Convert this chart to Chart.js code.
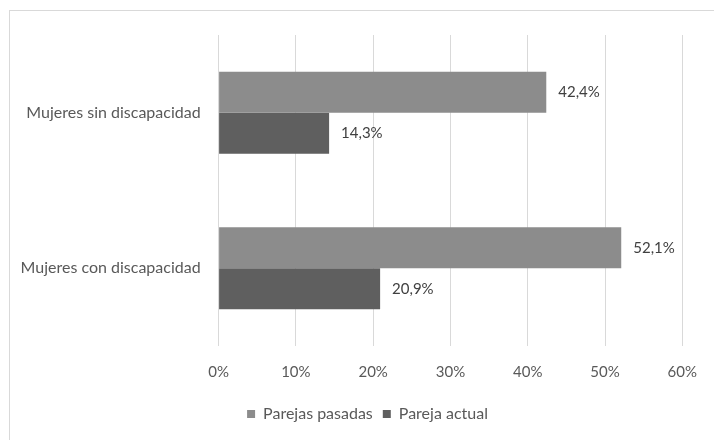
<!DOCTYPE html>
<html>
<head>
<meta charset="utf-8">
<script src="https://cdn.jsdelivr.net/npm/chart.js@4.4.0/dist/chart.umd.min.js"></script>
<style>
  html, body { margin: 0; padding: 0; background: #fff; }
  #frame { position: absolute; left: 9px; top: 10px; width: 710px; height: 440px; border: 1px solid #d9d9d9; box-sizing: border-box; }
  #wrap { position: absolute; left: 0; top: 0; width: 714px; height: 440px; }
</style>
</head>
<body>
<div id="frame"></div>
<div id="wrap"><canvas id="myChart" width="714" height="440"></canvas></div>
<script>
'use strict'

// categories and series
let categories = ['Mujeres sin discapacidad', 'Mujeres con discapacidad'];
let seriesNames = ['Parejas pasadas', 'Pareja actual'];
let pasadas = [42.4, 52.1];
let actual = [14.3, 20.9];
let tickValues = [0, 10, 20, 30, 40, 50, 60];

const textColor = '#595959';
const fontFamily = 'Lato, "Open Sans", sans-serif';

function pct(v){
  return v.toFixed(1).replace('.', ',') + '%';
}

// draws the value next to each bar end
const barLabels = {
  id: 'barLabels',
  afterDatasetsDraw(chart){
    let ctx = chart.ctx;
    ctx.save();
    ctx.fillStyle = '#404040';
    ctx.font = '15px ' + fontFamily;
    ctx.textAlign = 'left';
    ctx.textBaseline = 'middle';
    chart.data.datasets.forEach(function(ds, i){
      let meta = chart.getDatasetMeta(i);
      meta.data.forEach(function(bar, j){
        ctx.fillText(pct(ds.data[j]), bar.x + 12, bar.y);
      });
    });
    ctx.restore();
  }
};

// legend sits a bit right of the canvas centre in the original
const legendShift = {
  id: 'legendShift',
  afterLayout(chart){
    chart.legend.left += 26;
    chart.legend.right += 26;
  }
};

let ctx = document.getElementById('myChart').getContext('2d');
let myChart = new Chart(ctx, {
  type: 'bar',
  data: {
    labels: categories,
    datasets: [{
      label: seriesNames[0],
      data: pasadas,
      backgroundColor: '#8c8c8c',
      categoryPercentage: 0.527,
      barPercentage: 1
    }, {
      label: seriesNames[1],
      data: actual,
      backgroundColor: '#5f5f5f',
      categoryPercentage: 0.527,
      barPercentage: 1
    }]
  },
  options: {
    indexAxis: 'y',
    responsive: false,
    animation: false,
    layout: { padding: { top: 35, right: 31, left: 0, bottom: 8 } },
    scales: {
      x: {
        min: 0,
        max: 60,
        afterBuildTicks: function(scale){
          scale.ticks = tickValues.map(function(v){ return { value: v }; });
        },
        afterFit: function(scale){ scale.height = 50; },
        grid: { color: '#d9d9d9', drawTicks: false },
        border: { display: false },
        ticks: {
          padding: 17,
          color: textColor,
          font: { family: fontFamily, size: 15 },
          callback: function(v){ return v + '%'; }
        }
      },
      y: {
        afterFit: function(scale){ scale.width = 218.6; },
        grid: { display: false, drawTicks: false },
        border: { display: false },
        ticks: {
          padding: 18,
          color: textColor,
          font: { family: fontFamily, size: 16 }
        }
      }
    },
    plugins: {
      legend: {
        position: 'bottom',
        labels: {
          boxWidth: 8,
          boxHeight: 8,
          padding: 10,
          color: textColor,
          font: { family: fontFamily, size: 16 }
        }
      },
      tooltip: { enabled: false }
    }
  },
  plugins: [barLabels, legendShift]
});
</script>
</body>
</html>
